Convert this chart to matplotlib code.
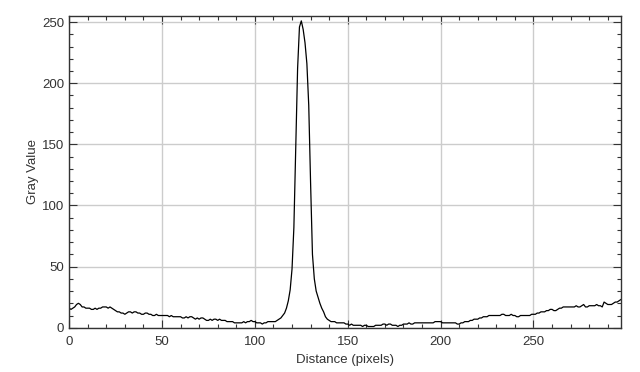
import numpy as np
import matplotlib.pyplot as plt
from matplotlib.ticker import MultipleLocator

# Profil de niveaux de gris
gray = [
    16, 15, 16, 17, 19, 20, 19, 17, 17, 16,
    16, 16, 15, 15, 16, 15, 16, 16, 17, 17,
    17, 16, 17, 16, 15, 14, 13, 13, 12, 12,
    11, 12, 13, 13, 12, 13, 13, 12, 12, 11,
    11, 12, 12, 11, 11, 10, 10, 11, 10, 10,
    10, 10, 10, 10, 9, 10, 9, 9, 9, 9,
    9, 8, 8, 9, 8, 9, 9, 8, 7, 8,
    7, 8, 8, 7, 6, 6, 7, 6, 7, 7,
    6, 7, 6, 6, 6, 5, 5, 5, 5, 4,
    4, 4, 4, 4, 5, 4, 5, 5, 6, 5,
    5, 4, 4, 4, 3, 4, 4, 5, 5, 5,
    5, 5, 6, 7, 8, 10, 12, 16, 22, 31,
    48, 82, 148, 212, 246, 251, 244, 233, 216, 182,
    118, 60, 40, 30, 25, 20, 16, 13, 9, 7,
    6, 5, 5, 5, 4, 4, 4, 4, 4, 3,
    3, 2, 3, 2, 2, 2, 2, 2, 1, 2,
    2, 1, 1, 1, 1, 2, 2, 2, 2, 3,
    3, 2, 3, 3, 2, 2, 2, 1, 2, 2,
    3, 3, 3, 4, 3, 3, 4, 4, 4, 4,
    4, 4, 4, 4, 4, 4, 4, 5, 5, 5,
    5, 4, 4, 4, 4, 4, 4, 4, 4, 3,
    3, 4, 4, 5, 5, 5, 6, 6, 7, 7,
    7, 8, 8, 9, 9, 9, 10, 10, 10, 10,
    10, 10, 10, 11, 11, 10, 10, 10, 11, 10,
    10, 9, 9, 10, 10, 10, 10, 10, 10, 11,
    11, 11, 12, 12, 13, 13, 13, 14, 14, 15,
    15, 14, 14, 15, 16, 16, 17, 17, 17, 17,
    17, 17, 17, 18, 17, 17, 18, 19, 17, 17,
    18, 18, 18, 18, 19, 18, 18, 17, 21, 20,
    19, 19, 19, 20, 21, 21, 22, 23,
]
distance = np.arange(len(gray))

plt.rcParams['font.family'] = ['Liberation Sans', 'DejaVu Sans']

fig = plt.figure(figsize=(6.4, 3.72), dpi=100)
ax = fig.add_axes([0.108, 0.119, 0.862, 0.838])

ax.plot(distance, gray, color='black', linewidth=0.9)

ax.set_xlim(0, 297)
ax.set_ylim(0, 255)
ax.xaxis.set_major_locator(MultipleLocator(50))
ax.xaxis.set_minor_locator(MultipleLocator(10))
ax.yaxis.set_major_locator(MultipleLocator(50))
ax.yaxis.set_minor_locator(MultipleLocator(10))

ax.grid(True, which='major', color='#cccccc', linewidth=1.0)
ax.set_axisbelow(True)

ax.tick_params(which='both', direction='in', top=True, right=True,
               colors='#333333', labelsize=9.5)
ax.tick_params(axis='x', pad=6)
ax.tick_params(which='major', length=5.5, width=0.8)
ax.tick_params(which='minor', length=3, width=0.8)
for s in ax.spines.values():
    s.set_color('#333333')
    s.set_linewidth(1.0)

ax.set_xlabel('Distance (pixels)', fontsize=9.5, color='#333333', labelpad=4)
ax.set_ylabel('Gray Value', fontsize=9.5, color='#333333', labelpad=2)

fig.savefig('out.png', dpi=100)
